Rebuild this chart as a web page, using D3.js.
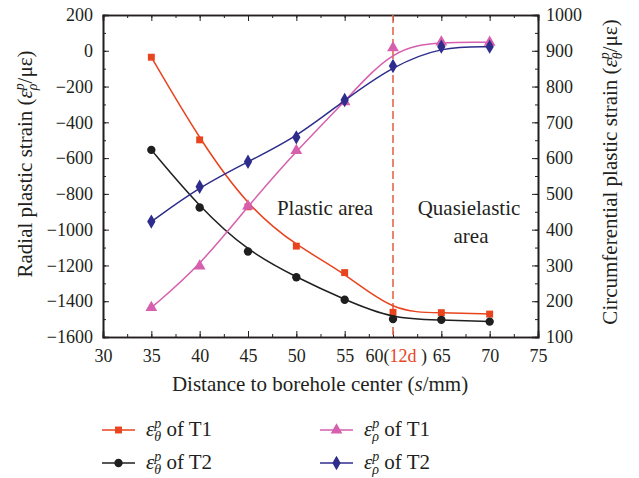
<!DOCTYPE html>
<html>
<head>
<meta charset="utf-8">
<script src="https://cdn.jsdelivr.net/npm/d3@7/dist/d3.min.js"></script>
<style>
  body { margin: 0; background: #fff; }
  text { font-family: "Liberation Serif", "DejaVu Serif", serif; fill: #231f20; }
</style>
</head>
<body>
<div id="plot"></div>
<script>
// distance to borehole center (mm)
var distance = [35, 40, 45, 50, 55, 60, 65, 70];
// circumferential strain, right axis
var thetaT1 = [882, 651, 464, 354, 280, 169, 168, 164];
var thetaT2 = [623, 462, 339, 267, 204, 150, 148, 143];
// radial strain, left axis
var rhoT1 = [-1436, -1203, -868, -558, -285, 17, 49, 47];
var rhoT2 = [-955, -760, -620, -484, -275, -85, 23, 23];

var xTicks = [30, 35, 40, 45, 50, 55, 60, 65, 70, 75];
var leftTicks = [200, 0, -200, -400, -600, -800, -1000, -1200, -1400, -1600];
var rightTicks = [1000, 900, 800, 700, 600, 500, 400, 300, 200, 100];
var boundary = 60;

var svgWidth = 639;
var svgHeight = 478;
var margin = { top: 15, right: 101, bottom: 141, left: 103 };
var width = svgWidth - margin.left - margin.right;
var height = svgHeight - margin.top - margin.bottom;

var svg = d3.select("#plot").append("svg")
  .attr("width", svgWidth)
  .attr("height", svgHeight);

var chart = svg.append("g")
  .attr("transform", `translate(${margin.left}, ${margin.top})`);

var x = d3.scaleLinear().domain([30, 75]).range([0, width]);
var yLeft = d3.scaleLinear().domain([-1600, 200]).range([height, 0]);
var yRight = d3.scaleLinear().domain([100, 1000]).range([height, 0]);

var series = [
  { data: thetaT1, y: yRight, color: "#e8441d", shape: d3.symbolSquare, size: 48, sub: "θ", name: " of T1" },
  { data: thetaT2, y: yRight, color: "#1f1f1f", shape: d3.symbolCircle, size: 55, sub: "θ", name: " of T2" },
  { data: rhoT1, y: yLeft, color: "#d65fae", shape: d3.symbolTriangle, size: 60, sub: "ρ", name: " of T1" },
  { data: rhoT2, y: yLeft, color: "#2e2d8c", shape: d3.symbolDiamond, size: 60, sub: "ρ", name: " of T2" }
];

function minor(lo, hi, step) {
  return d3.range(lo, hi + step / 2, step);
}

var tickFont = 18;
var labelFont = 21;

// axes: major ticks inward, minor ticks inward shorter
chart.append("g")
  .attr("transform", `translate(0, ${height})`)
  .call(d3.axisBottom(x).tickValues(minor(30, 75, 2.5)).tickSize(-3).tickFormat(""));
var bottomMajor = chart.append("g")
  .attr("transform", `translate(0, ${height})`)
  .call(d3.axisBottom(x).tickValues(xTicks).tickSize(-6).tickPadding(12));

chart.append("g")
  .call(d3.axisTop(x).tickValues(minor(30, 75, 2.5)).tickSize(-3).tickFormat(""));
chart.append("g")
  .call(d3.axisTop(x).tickValues(xTicks).tickSize(-6).tickFormat(""));

chart.append("g")
  .call(d3.axisLeft(yLeft).tickValues(minor(-1600, 200, 100)).tickSize(-3).tickFormat(""));
chart.append("g")
  .call(d3.axisLeft(yLeft).tickValues(leftTicks).tickSize(-6).tickPadding(10)
    .tickFormat(d => d < 0 ? "\u2212" + Math.abs(d) : d));

chart.append("g")
  .attr("transform", `translate(${width}, 0)`)
  .call(d3.axisRight(yRight).tickValues(minor(100, 1000, 50)).tickSize(-3).tickFormat(""));
chart.append("g")
  .attr("transform", `translate(${width}, 0)`)
  .call(d3.axisRight(yRight).tickValues(rightTicks).tickSize(-6).tickPadding(8)
    .tickFormat(d3.format("d")));

chart.selectAll(".domain").attr("stroke", "#231f20").attr("stroke-width", 1.6);
chart.selectAll(".tick line").attr("stroke", "#231f20").attr("stroke-width", 1);
chart.selectAll(".tick text")
  .attr("font-family", "Liberation Serif")
  .attr("font-size", tickFont)
  .attr("fill", "#231f20");

// the 60 label carries the "(12d )" note
bottomMajor.selectAll(".tick")
  .filter(d => d === boundary)
  .select("text")
  .text(null)
  .call(t => {
    t.append("tspan").text("60(");
    t.append("tspan").attr("fill", "#e8441d").text("12d");
    t.append("tspan").text(" )");
  })
  .attr("dx", "0.15em");

// boundary line
chart.append("line")
  .attr("x1", x(boundary)).attr("x2", x(boundary))
  .attr("y1", 0).attr("y2", height)
  .attr("stroke", "#e8674a")
  .attr("stroke-width", 1.6)
  .attr("stroke-dasharray", "8,4");

// curves and markers
series.forEach(function (s) {
  var pts = distance.map((d, i) => [x(d), s.y(s.data[i])]);
  chart.append("path")
    .attr("d", d3.line().curve(d3.curveBasis)(pts))
    .attr("fill", "none")
    .attr("stroke", s.color)
    .attr("stroke-width", 1.5);
  chart.selectAll(null)
    .data(pts)
    .enter()
    .append("path")
    .attr("transform", p => `translate(${p[0]}, ${p[1]})`)
    .attr("d", d3.symbol().type(s.shape).size(s.size))
    .attr("fill", s.color);
});

// region labels
chart.append("text")
  .attr("x", 325 - margin.left).attr("y", 215 - margin.top)
  .attr("text-anchor", "middle").attr("font-size", labelFont)
  .text("Plastic area");
chart.append("text")
  .attr("x", 469 - margin.left).attr("y", 215 - margin.top)
  .attr("text-anchor", "middle").attr("font-size", labelFont)
  .text("Quasielastic");
chart.append("text")
  .attr("x", 471 - margin.left).attr("y", 243 - margin.top)
  .attr("text-anchor", "middle").attr("font-size", labelFont)
  .text("area");

// epsilon with stacked superscript p and subscript
function epsilon(t, sub, after) {
  t.append("tspan").attr("font-style", "italic").text("ε");
  t.append("tspan").attr("font-style", "italic").attr("font-size", 14).attr("dy", -8).text("p");
  t.append("tspan").attr("font-style", "italic").attr("font-size", 14).attr("dx", -7).attr("dy", 13).text(sub);
  t.append("tspan").attr("dy", -5).text(after);
}

// axis titles
svg.append("text")
  .attr("transform", "translate(32, 164) rotate(-90)")
  .attr("text-anchor", "middle").attr("font-size", labelFont)
  .call(t => {
    t.append("tspan").text("Radial plastic strain (");
    epsilon(t, "ρ", "/με)");
  });

svg.append("text")
  .attr("transform", "translate(617, 172) rotate(-90)")
  .attr("text-anchor", "middle").attr("font-size", labelFont)
  .call(t => {
    t.append("tspan").text("Circumferential plastic strain (");
    epsilon(t, "θ", "/με)");
  });

svg.append("text")
  .attr("x", 320).attr("y", 391)
  .attr("text-anchor", "middle").attr("font-size", labelFont)
  .call(t => {
    t.append("tspan").text("Distance to borehole center (");
    t.append("tspan").attr("font-style", "italic").text("s");
    t.append("tspan").text("/mm)");
  });

// legend
var legendPos = [[102, 430], [102, 463], [320, 430], [320, 463]];
series.forEach(function (s, i) {
  var g = svg.append("g").attr("transform", `translate(${legendPos[i][0]}, ${legendPos[i][1]})`);
  g.append("line").attr("x1", 0).attr("x2", 33)
    .attr("stroke", s.color).attr("stroke-width", 1.5);
  g.append("path")
    .attr("transform", "translate(16.5, 0)")
    .attr("d", d3.symbol().type(s.shape).size(s.size))
    .attr("fill", s.color);
  g.append("text")
    .attr("x", 44).attr("y", 6)
    .attr("font-size", labelFont)
    .call(t => epsilon(t, s.sub, s.name));
});
</script>
</body>
</html>
